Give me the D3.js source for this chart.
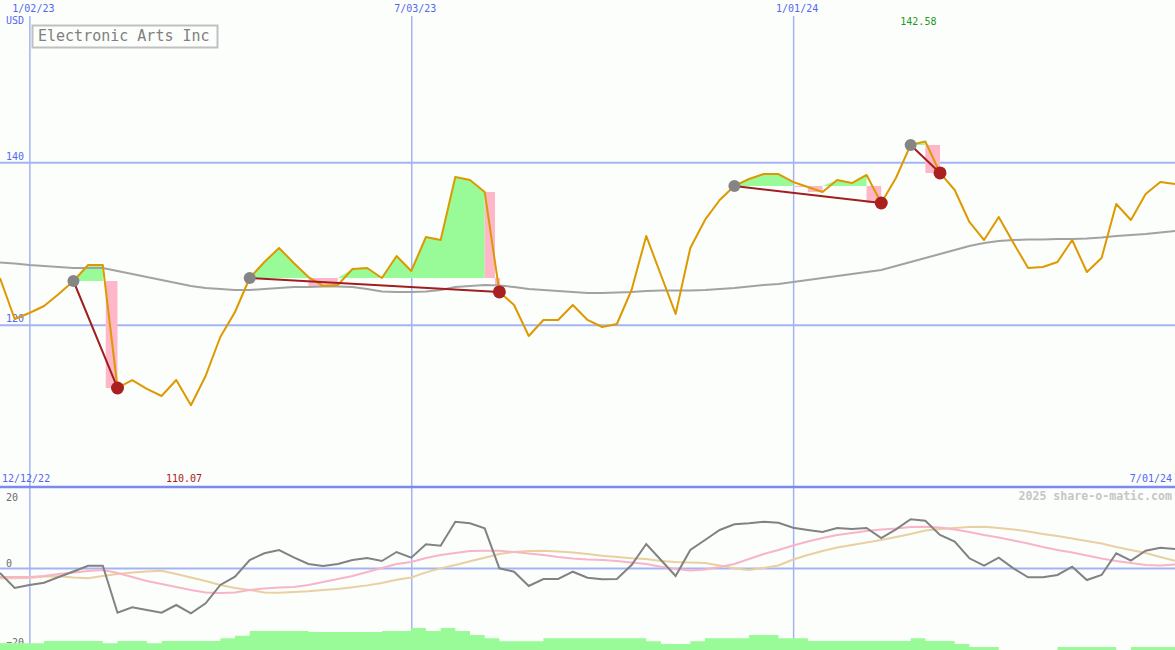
<!DOCTYPE html>
<html><head><meta charset="utf-8">
<script src="https://cdn.jsdelivr.net/npm/d3@7"></script>
<style>
html,body{margin:0;padding:0;background:#fcfefc;}
svg{display:block;}
text{font-family:"DejaVu Sans Mono",monospace;}
</style></head><body>
<svg id="chart" width="1175" height="650"></svg>
<script>
// ---------------- DATA ----------------
const startDate = "2022-12-19";
const endDate = "2024-07-01";
const title = "Electronic Arts Inc";
const currency = "USD";
const rangeLabels = ["12/12/22", "7/01/24"];
const credit = "2025 share-o-matic.com";

// weekly closes
const closes = [125.75,120.70,121.44,122.30,123.78,125.38,127.35,127.35,112.20,113.18,
 112.08,111.21,113.18,110.07,113.68,118.48,121.56,125.75,127.72,129.45,
 127.60,125.87,124.77,124.89,126.86,126.98,125.75,128.46,126.61,130.80,
 130.43,138.19,137.82,136.35,124.03,122.42,118.61,120.58,120.58,122.42,
 120.58,119.71,120.08,124.27,130.93,126.12,121.32,129.45,132.90,135.36,
 137.09,137.95,138.56,138.56,137.58,136.96,136.35,137.82,137.45,138.44,
 134.99,138.07,142.14,142.58,138.69,136.59,132.65,130.43,133.27,130.06,
 126.98,127.11,127.72,130.43,126.49,128.21,134.87,132.90,136.10,137.58,
 137.33];
// moving average
const movingAvg = [127.66,127.54,127.35,127.23,127.11,126.98,126.98,126.98,126.61,126.24,
 125.87,125.50,125.13,124.76,124.52,124.39,124.27,124.27,124.39,124.52,
 124.64,124.64,124.70,124.70,124.64,124.39,124.09,124.02,124.02,124.09,
 124.27,124.64,124.76,124.89,124.82,124.64,124.39,124.27,124.15,124.02,
 123.90,123.90,123.96,124.02,124.15,124.21,124.21,124.21,124.27,124.39,
 124.52,124.70,124.89,125.01,125.26,125.50,125.75,126.00,126.24,126.49,
 126.73,127.23,127.72,128.21,128.71,129.20,129.69,130.06,130.31,130.43,
 130.49,130.49,130.55,130.55,130.62,130.74,130.92,131.05,131.17,131.35,
 131.54];
// lower panel oscillators
const oscMomentum = [-1.27,-5.06,-4.30,-3.72,-2.28,-0.89,0.58,0.58,-11.32,-9.95,
 -10.63,-11.32,-9.37,-11.47,-8.94,-4.30,-2.20,2.03,3.72,4.56,
 2.71,1.01,0.51,1.01,2.03,2.53,1.77,4.05,2.61,6.00,
 5.65,11.72,11.32,10.05,-0.08,-0.94,-4.56,-2.78,-2.78,-0.94,
 -2.46,-2.86,-2.78,0.76,6.08,2.03,-2.03,4.56,7.09,9.62,
 11.06,11.32,11.72,11.47,10.20,9.62,9.11,10.13,9.87,10.13,
 7.59,9.80,12.33,11.97,8.35,6.66,2.46,0.58,2.61,-0.08,
 -2.35,-2.35,-1.77,0.33,-3.04,-1.77,3.72,1.85,4.38,5.14,
 4.81];
const oscFast = [-2.28,-2.28,-2.28,-2.03,-1.52,-1.14,-0.76,-0.51,-1.27,-2.28,
 -3.29,-4.05,-4.81,-5.57,-6.20,-6.33,-6.20,-5.57,-5.19,-4.94,
 -4.81,-4.30,-3.54,-2.78,-2.03,-1.01,0,1.01,1.52,2.53,
 3.29,3.80,4.30,4.38,4.38,4.05,3.67,3.29,2.78,2.41,
 2.15,2.03,1.77,1.39,1.01,0.33,-0.25,-0.63,-0.38,0.25,
 1.01,2.28,3.54,4.56,5.70,6.71,7.59,8.35,8.86,9.37,
 9.75,10.00,10.38,10.46,10.25,9.75,9.11,8.35,7.72,6.96,
 6.20,5.32,4.56,3.92,3.16,2.41,1.77,1.27,0.76,0.63,
 0.89];
const oscSlow = [-2.61,-2.61,-2.53,-2.15,-2.10,-2.41,-2.61,-2.03,-1.52,-1.14,
 -0.89,-0.68,-1.52,-2.41,-3.29,-4.30,-5.06,-5.57,-6.20,-6.25,
 -6.08,-5.90,-5.60,-5.30,-4.90,-4.40,-3.80,-3.00,-2.40,-1.10,
 -0.10,0.76,1.70,2.60,3.54,4.05,4.30,4.38,4.18,3.92,
 3.54,3.11,2.78,2.46,2.28,1.77,1.52,1.39,1.27,0.63,
 -0.13,-0.51,0,0.63,2.15,3.29,4.30,5.19,5.82,6.46,
 7.09,7.85,8.61,9.49,9.87,10.13,10.38,10.46,10.13,9.75,
 9.24,8.61,8.10,7.47,6.84,6.20,5.32,4.56,3.80,2.78,
 1.85];
// weekly volume (one per week interval)
const volumes = [6.7,6.7,6.7,9,9,9,9,6.7,9,9,
 6.7,9,9,9,9,11.7,14.3,19,19,19,
 19,18,18,18,18,18,19,19,22,19,
 22,19,15,11.7,8.7,8.7,8.7,11.7,11.7,11.7,
 11.7,11.7,11.7,11.7,8.7,6,6,8.7,11.7,11.7,
 11.7,15,15,11.7,11.7,9,9,9,9,9,
 9,9,11.7,9,9,6,3,3,0,0,
 0,0,3,3,3,3,0,3,3,3];

const gridDates = ["2023-01-02", "2023-07-03", "2024-01-01"];
const gridLabels = ["1/02/23", "7/03/23", "1/01/24"];
const priceTicks = [120, 140];
const oscTicks = [20, 0, -20];

// trades (week index)
const entryWeeks = [5, 17, 50, 62];
const exitWeeks = [8, 34, 60, 64];
// loss bands (week index start/end, value top/bottom)
const lossStart  = [7.2, 21, 22, 33, 33.7, 54, 55, 59, 63];
const lossEnd    = [8, 22, 23, 33.7, 34.05, 55, 56, 60, 64];
const lossTop    = [125.38, 125.75, 125.75, 136.35, 125.75, 137.09, 137.09, 137.09, 142.14];
const lossBottom = [112.20, 124.77, 124.89, 125.75, 124.89, 136.96, 136.35, 134.99, 138.69];

// ---------------- CHART ----------------
const W = 1175, H = 650;
const svg = d3.select("#chart");
const parse = d3.utcParse("%Y-%m-%d");
const t0 = parse(startDate);
const weekDate = w => new Date(t0.getTime() + w * 7 * 864e5);
const dates = closes.map((_, i) => weekDate(i));

const x = d3.scaleUtc().domain([t0, parse(endDate)]).range([0, W]);
const y = d3.scaleLinear().domain([100, 160]).range([487, 0]);
const y2 = d3.scaleLinear().domain([-20, 20]).range([647, 489]);
const yv = d3.scaleLinear().domain([0, 40]).range([650, 610]);

const BLUE = "#5468ee", GRID = "#a4b4f2";

svg.append("rect").attr("width", W).attr("height", H).attr("fill", "#fcfefc");

// horizontal price grid
const gy = svg.append("g").call(d3.axisLeft(y).tickValues(priceTicks).tickSize(-W).tickFormat(d3.format("d")));
gy.select(".domain").remove();
gy.selectAll("line").attr("stroke", GRID).attr("stroke-width", 2);
gy.selectAll("text").attr("x", 6).attr("dy", null).attr("y", -3)
  .attr("text-anchor", "start").attr("fill", BLUE).style("font-size", "10px")
  .style("font-family", "DejaVu Sans Mono, monospace");

// lower panel grid / labels
const gy2 = svg.append("g").call(d3.axisLeft(y2).tickValues(oscTicks).tickSize(-W).tickFormat(d3.format("d")));
gy2.select(".domain").remove();
gy2.selectAll("line").attr("stroke", GRID).attr("stroke-width", 2)
  .attr("stroke-opacity", d => d === 0 ? 1 : 0);
gy2.selectAll("text").attr("x", 6).attr("dy", null)
  .attr("y", d => Math.max(500, Math.min(645, y2(d) - 2)) - y2(d))
  .attr("text-anchor", "start").attr("fill", "#6a6a6a").style("font-size", "10px")
  .style("font-family", "DejaVu Sans Mono, monospace");

// vertical date grid
const gx = svg.append("g").attr("transform", "translate(0,16)")
  .call(d3.axisTop(x).tickValues(gridDates.map(parse)).tickSize(-(H - 16)).tickPadding(4)
    .tickFormat((d, i) => gridLabels[i]));
gx.select(".domain").remove();
gx.selectAll("line").attr("stroke", GRID).attr("stroke-width", 1.5);
gx.selectAll("text").attr("dx", 3.5).attr("fill", BLUE).style("font-size", "10px")
  .style("font-family", "DejaVu Sans Mono, monospace");

// volume
const volPts = volumes.map((v, i) => [dates[i], v]).concat([[weekDate(volumes.length), volumes[volumes.length - 1]]]);
svg.append("path").datum(volPts)
  .attr("d", d3.area().curve(d3.curveStepAfter).x(d => x(d[0])).y0(yv(0)).y1(d => yv(d[1])))
  .attr("fill", "#98fb98");

// panel divider
svg.append("line").attr("x1", 0).attr("x2", W).attr("y1", y(100)).attr("y2", y(100))
  .attr("stroke", "#7a8aee").attr("stroke-width", 2.5);

// gain areas (green)
const gainArea = d3.area().x(d => x(d.date)).y0(d => y(d.level)).y1(d => y(Math.max(d.close, d.level)));
entryWeeks.forEach((e, k) => {
  const L = closes[e];
  let run = null;
  const runs = [];
  for (let i = e + 1; i <= exitWeeks[k]; i++) {
    if (closes[i] >= L) {
      if (!run) { run = [i - 1]; runs.push(run); }
      run.push(i);
    } else run = null;
  }
  runs.forEach(r => {
    svg.append("path").datum(r.map(i => ({date: dates[i], close: closes[i], level: L})))
      .attr("d", gainArea).attr("fill", "#98fb98");
  });
});

// loss bands (pink)
svg.append("g").selectAll("rect").data(lossStart.map((s, i) => i)).join("rect")
  .attr("x", i => x(weekDate(lossStart[i])))
  .attr("width", i => x(weekDate(lossEnd[i])) - x(weekDate(lossStart[i])))
  .attr("y", i => y(lossTop[i]))
  .attr("height", i => y(lossBottom[i]) - y(lossTop[i]))
  .attr("fill", "#ffb6c8");

// moving average
svg.append("path").datum(movingAvg)
  .attr("d", d3.line().x((d, i) => x(dates[i])).y(d => y(d)))
  .attr("fill", "none").attr("stroke", "#a2a2a2").attr("stroke-width", 2);

// price
svg.append("path").datum(closes)
  .attr("d", d3.line().x((d, i) => x(dates[i])).y(d => y(d)))
  .attr("fill", "none").attr("stroke", "#dd9900").attr("stroke-width", 2).attr("stroke-linejoin", "round");

// oscillators
const oscLine = d3.line().x((d, i) => x(dates[i])).y(d => y2(d));
[[oscSlow, "#e8d0a0"], [oscFast, "#f8b4c8"], [oscMomentum, "#828282"]].forEach(([arr, c]) => {
  svg.append("path").datum(arr).attr("d", oscLine)
    .attr("fill", "none").attr("stroke", c).attr("stroke-width", 2);
});

// trade lines and markers
entryWeeks.forEach((e, k) => {
  const xo = exitWeeks[k];
  svg.append("line")
    .attr("x1", x(dates[e])).attr("y1", y(closes[e]))
    .attr("x2", x(dates[xo])).attr("y2", y(closes[xo]))
    .attr("stroke", "#a01e1e").attr("stroke-width", 2);
});
svg.append("g").selectAll("circle").data(entryWeeks).join("circle")
  .attr("cx", i => x(dates[i])).attr("cy", i => y(closes[i])).attr("r", 6).attr("fill", "#858585");
svg.append("g").selectAll("circle").data(exitWeeks).join("circle")
  .attr("cx", i => x(dates[i])).attr("cy", i => y(closes[i])).attr("r", 6.5).attr("fill", "#a82020");

// texts
const maxI = closes.indexOf(d3.max(closes));
const minI = closes.indexOf(d3.min(closes));
svg.append("text").attr("x", x(dates[maxI]) - 25).attr("y", 25)
  .attr("fill", "#229922").style("font-size", "10px").text(d3.format(".2f")(closes[maxI]));
svg.append("text").attr("x", x(dates[minI]) - 25).attr("y", 482)
  .attr("fill", "#a82020").style("font-size", "10px").text(d3.format(".2f")(closes[minI]));
svg.append("text").attr("x", 6).attr("y", 24).attr("fill", BLUE).style("font-size", "10px").text(currency);
svg.append("text").attr("x", 2).attr("y", 482).attr("fill", BLUE).style("font-size", "10px").text(rangeLabels[0]);
svg.append("text").attr("x", 1172).attr("y", 482).attr("text-anchor", "end")
  .attr("fill", BLUE).style("font-size", "10px").text(rangeLabels[1]);
svg.append("text").attr("x", 1172).attr("y", 500).attr("text-anchor", "end")
  .attr("fill", "#c6c6c6").style("font-size", "11.6px").style("font-weight", "bold").text(credit);

svg.append("rect").attr("x", 32.5).attr("y", 25.5).attr("width", 185).attr("height", 22)
  .attr("fill", "none").attr("stroke", "#c0c0c0").attr("stroke-width", 2);
svg.append("text").attr("x", 38).attr("y", 41).attr("fill", "#808080")
  .style("font-size", "15px").text(title);
</script>
</body></html>
